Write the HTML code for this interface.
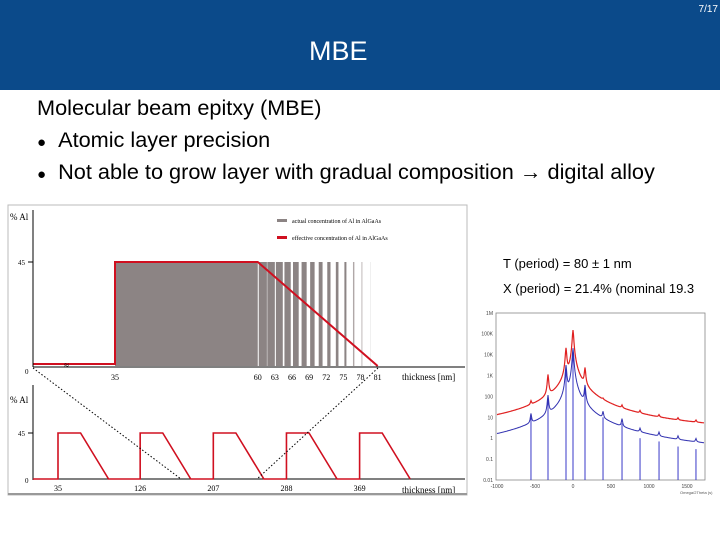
<!DOCTYPE html>
<html><head><meta charset="utf-8"><style>
body{margin:0;width:720px;height:540px;overflow:hidden;background:#fff;font-family:"Liberation Sans",sans-serif;position:relative}
.t{position:absolute;white-space:nowrap}
</style></head><body>
<div style="position:absolute;left:0;top:0;width:720px;height:90px;background:#0b4a8a"></div>
<div class="t" style="right:2px;top:4px;font-size:10px;color:#fff">7/17</div>
<div class="t" style="left:309px;top:36px;font-size:27px;color:#fff">MBE</div>
<div class="t" style="left:37px;top:95px;font-size:21.7px;color:#000">Molecular beam epitxy (MBE)</div>
<div class="t" style="left:37px;top:127px;font-size:21.7px"><span style="font-size:15px">●</span>&nbsp;&nbsp;Atomic layer precision</div>
<div class="t" style="left:37px;top:159px;font-size:21.7px"><span style="font-size:15px">●</span>&nbsp;&nbsp;Not able to grow layer with gradual composition → digital alloy</div>
<div class="t" style="left:503px;top:256px;font-size:13px">T (period) = 80 ± 1 nm</div>
<div class="t" style="left:503px;top:281px;font-size:13px">X (period) = 21.4% (nominal 19.3</div>
<svg id="s" width="720" height="540" style="position:absolute;left:0;top:0"></svg>
<script>
const stripeStarts=[60,61.5,63,64.5,66,67.5,69,70.5,72,73.5,75,76.5,78,79.5];
const xTicksTop=[35,60,63,66,69,72,75,78,81];
const pulseStarts=[35,126,207,288,369];
const xrdPeakPos=[-553,-329,-92,0,158,395,645,882,1132,1382,1618];
const xrdBlue=[10,100,3000,20000,300,10,5,1,0.7,0.4,0.3];
const xrdRed=[20,1000,20000,150000,2000,10,10,5,3,2,1.5];
const xrdYTicks=["0.01","0.1","1","10","100","1K","10K","100K","1M"];
const xrdXTicks=[-1000,-500,0,500,1000,1500];
const S=document.getElementById('s');const NS='http://www.w3.org/2000/svg';
function el(t,a,txt){const e=document.createElementNS(NS,t);for(const k in a)e.setAttribute(k,a[k]);if(txt!==undefined)e.textContent=txt;S.appendChild(e);return e;}
const serif='"Liberation Serif",serif';
let f=el('rect',{x:8,y:205,width:459,height:290,fill:'#fff',stroke:'#bbb','stroke-width':1});

const tx=v=>115+(v-35)*5.71, ty=v=>366-v*104/45;
for(const s of stripeStarts){const w=1.5*(1-(s-60)/21)+0.1;let r=el('rect',{x:tx(s)+1,y:ty(45),width:w*5.71-1,height:ty(0)-ty(45),fill:s>75?'#b0a8a8':'#8c8484'});
}
let b=el('rect',{x:tx(35),y:ty(45),width:tx(60)-tx(35),height:ty(0)-ty(45),fill:'#8c8484'});

let rl=el('polyline',{points:`33,${ty(0)-2} ${tx(35)},${ty(0)-2} ${tx(35)},${ty(45)} ${tx(60)},${ty(45)} ${tx(81)},${ty(0)}`,fill:'none',stroke:'#d01020','stroke-width':2});

el('line',{x1:33,y1:210,x2:33,y2:367,stroke:'#000'});el('line',{x1:33,y1:367,x2:465,y2:367,stroke:'#000'});
el('line',{x1:28,y1:ty(45),x2:33,y2:ty(45),stroke:'#000'});
el('text',{x:10,y:220,'font-size':9,'font-family':serif},'% Al');
el('text',{x:18,y:ty(45)+3,'font-size':7,'font-family':serif},'45');
el('text',{x:25,y:374,'font-size':7,'font-family':serif},'0');
for(const v of xTicksTop){let t=el('text',{x:tx(v),y:380,'font-size':8,'font-family':serif,'text-anchor':'middle'},v);}
el('text',{x:402,y:380,'font-size':9,'font-family':serif},'thickness [nm]');
el('text',{x:64,y:368,'font-size':9,'font-family':serif},'≈');
el('rect',{x:277,y:219,width:10,height:3,fill:'#8c8484'});
el('text',{x:292,y:223,'font-size':6,'font-family':serif},'actual concentration of Al in AlGaAs');
el('rect',{x:277,y:236,width:10,height:3,fill:'#d01020'});
el('text',{x:292,y:240,'font-size':6,'font-family':serif},'effective concentration of Al in AlGaAs');
const bx=v=>58+(v-35)*0.903, by=v=>479-v*46/45;
el('line',{x1:33,y1:385,x2:33,y2:480,stroke:'#000'});el('line',{x1:33,y1:479,x2:465,y2:479,stroke:'#000'});
el('line',{x1:28,y1:by(45),x2:33,y2:by(45),stroke:'#000'});
el('text',{x:10,y:403,'font-size':9,'font-family':serif},'% Al');
el('text',{x:18,y:by(45)+3,'font-size':7,'font-family':serif},'45');
el('text',{x:25,y:483,'font-size':7,'font-family':serif},'0');
let pts=`33,${by(0)}`;
for(const p of pulseStarts){pts+=` ${bx(p)},${by(0)} ${bx(p)},${by(45)} ${bx(p+25)},${by(45)} ${bx(p+56)},${by(0)}`;
let t=el('text',{x:bx(p),y:491,'font-size':8,'font-family':serif,'text-anchor':'middle'},p);}
let pl=el('polyline',{points:pts,fill:'none',stroke:'#d01020','stroke-width':1.6});

el('text',{x:402,y:493,'font-size':9,'font-family':serif},'thickness [nm]');
el('line',{x1:33,y1:368,x2:181,y2:479,stroke:'#000','stroke-dasharray':'1.5,2'});
el('line',{x1:378,y1:368,x2:257,y2:479,stroke:'#000','stroke-dasharray':'1.5,2'});
el('line',{x1:8,y1:494,x2:467,y2:494,stroke:'#999','stroke-width':2});
const X=v=>573+v*0.076, Y=v=>480-(Math.log10(v)+2)*20.9;
el('rect',{x:496,y:313,width:209,height:167,fill:'#fff',stroke:'#888','stroke-width':0.8});
xrdYTicks.forEach((l,i)=>{el('text',{x:493,y:480-i*20.9+2,'font-size':5,'text-anchor':'end',fill:'#444'},l);});
xrdXTicks.forEach(v=>el('text',{x:X(v),y:488,'font-size':5,'text-anchor':'middle',fill:'#444'},v));
el('text',{x:680,y:494,'font-size':4,fill:'#555'},'Omega/2Theta (s)');
function curve(h,base,edge){let d='';for(let px=497;px<=704;px+=0.5){const v=(px-573)/0.076;let val=base*(edge+1/(1+Math.pow(v/150,2)));for(let i=0;i<xrdPeakPos.length;i++){const dx=v-xrdPeakPos[i];val+=h[i]/(1+dx*dx/60);}d+=(d?'L':'M')+px+','+Math.max(314,Y(val)).toFixed(1);}return d;}
xrdPeakPos.forEach((p,i)=>{let l=el('line',{x1:X(p),y1:480,x2:X(p),y2:Y(xrdBlue[i]),stroke:'#3838c8','stroke-width':1});});
let rc=el('path',{d:curve(xrdRed,60,0.025),fill:'none',stroke:'#e02020','stroke-width':1.2});

let bc=el('path',{d:curve(xrdBlue,6,0.015),fill:'none',stroke:'#3030b0','stroke-width':1});

</script>
</body></html>
